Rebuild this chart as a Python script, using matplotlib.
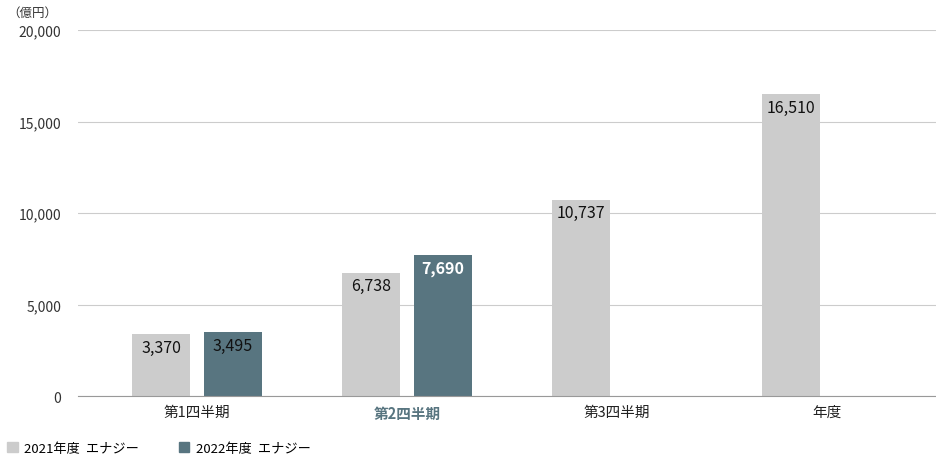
import matplotlib.pyplot as plt
import numpy as np
from matplotlib.patches import Patch

plt.rcParams['font.family'] = ['Noto Sans CJK JP', 'DejaVu Sans']

categories = ['第1四半期', '第2四半期', '第3四半期', '年度']
values_2021 = [3370, 6738, 10737, 16510]
values_2022 = [3495, 7690, None, None]
series_names = ['2021年度  エナジー', '2022年度  エナジー']
yticks = [0, 5000, 10000, 15000, 20000]

gray = '#cccccc'
teal = '#587580'

fig = plt.figure(figsize=(9.36, 4.56), dpi=100)
ax = fig.add_axes([0.0833, 0.129, 0.9167, 0.803])

x = np.arange(len(categories))
off = 0.17
w = 0.276
for i, v in enumerate(values_2021):
    ax.bar(x[i] - off, v, w, color=gray, zorder=3)
    ax.text(x[i] - off, v - 250, f'{v:,}', ha='center', va='top', fontsize=11.5,
            color='#111111', zorder=4)
for i, v in enumerate(values_2022):
    if v is None:
        continue
    ax.bar(x[i] + off, v, w, color=teal, zorder=3)
    bold = i == 1
    ax.text(x[i] + off, v - 250, f'{v:,}', ha='center', va='top', fontsize=11.5,
            color='white' if bold else '#111111',
            fontweight='bold' if bold else 'normal', zorder=4)

ax.set_xlim(-0.567, 3.52)
ax.set_ylim(0, 20000)
ax.set_yticks(yticks)
ax.set_yticklabels([f'{t:,}' for t in yticks], fontsize=10, color='#333333')
ax.yaxis.grid(True, color='#cccccc', lw=0.8, zorder=0)
ax.set_xticks(x)
ax.set_xticklabels(categories, fontsize=10.5, color='#222222')
lbl = ax.get_xticklabels()[1]
lbl.set_color(teal)
lbl.set_fontweight('bold')
ax.tick_params(length=0, pad=6)
for s in ['top', 'right', 'left']:
    ax.spines[s].set_visible(False)
ax.spines['bottom'].set_color('#999999')
ax.spines['bottom'].set_zorder(5)
ax.tick_params(axis='y', pad=12)

fig.text(0.008, 0.985, '（億円）', fontsize=9, color='#333333', va='top')

handles = [Patch(color=gray), Patch(color=teal)]
fig.legend(handles, series_names, loc='lower left', bbox_to_anchor=(-0.005, -0.025),
           ncol=2, frameon=False, fontsize=9.5, handlelength=0.8, handleheight=0.8,
           handletextpad=0.5, columnspacing=3)

fig.savefig('out.png', dpi=100)
